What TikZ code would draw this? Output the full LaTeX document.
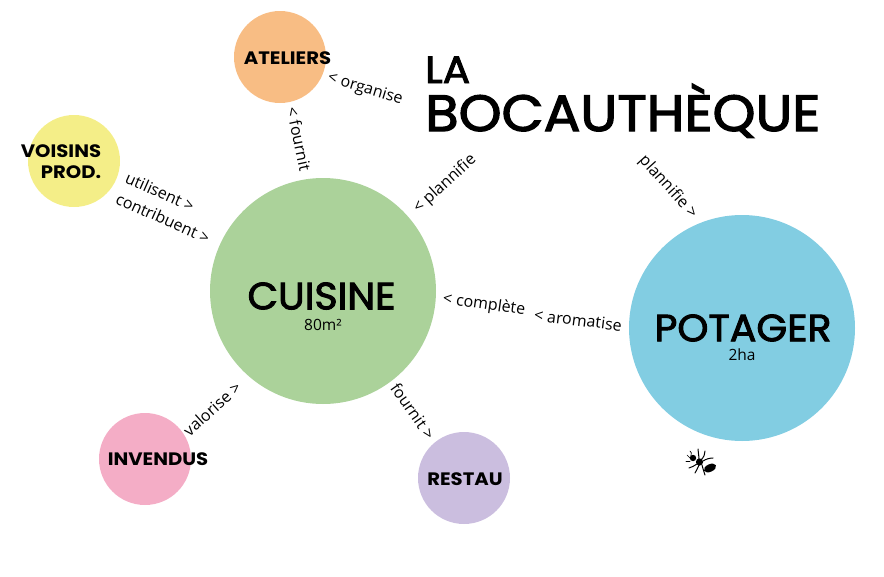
\documentclass[tikz,border=0pt]{standalone}
\usepackage{fontspec}
\setmainfont{Open Sans}
\newfontfamily\headfont[FakeBold=2.5,FakeStretch=1.04]{Poppins}
\newfontfamily\titlefont[FakeBold=2.5,FakeStretch=1.07]{Poppins}
\newfontfamily\tagfont[FakeStretch=1.09]{Poppins Bold}
\definecolor{cuisinec}{HTML}{ABD29A}
\definecolor{potagerc}{HTML}{82CDE2}
\definecolor{ateliersc}{HTML}{F8BD84}
\definecolor{voisinsc}{HTML}{F4EE88}
\definecolor{invendusc}{HTML}{F4ADC6}
\definecolor{restauc}{HTML}{CBBEDF}
\tikzset{
  bubble/.style={circle,draw=none,inner sep=0pt,outer sep=0pt},
  small/.style={bubble,minimum size=92pt},
  big/.style={bubble,minimum size=226pt},
  rel/.style={inner sep=0pt,font=\fontsize{16}{19}\selectfont},
  tag/.style={inner sep=0pt,font=\tagfont\fontsize{18}{21}\selectfont},
  head/.style={inner sep=0pt,font=\headfont\fontsize{38}{42}\selectfont},
  sub/.style={inner sep=0pt,font=\fontsize{15.5}{18}\selectfont},
  title/.style={inner sep=0pt,anchor=base west},
  antleg/.style={draw=black,line width=1pt,line cap=round}
}
\begin{document}
\begin{tikzpicture}[x=1pt,y=-1pt]
\useasboundingbox (0,0) rectangle (884,576);
\node[big,fill=cuisinec] (cuisine) at (323,291) {};
\node[big,fill=potagerc] (potager) at (742,328) {};
\node[small,fill=ateliersc] (ateliers) at (280,57) {};
\node[small,fill=voisinsc] (voisins) at (74,161) {};
\node[small,fill=invendusc] (invendus) at (145,459) {};
\node[small,fill=restauc] (restau) at (464,478) {};
\node[head] (tcuisine) at (321.5,296) {CUISINE};
\node[head] (tpotager) at (743,328) {POTAGER};
\node[sub] (scuisine) at (323,325) {80m²};
\node[sub] (spotager) at (742,355) {2ha};
\node[tag] (tateliers) at (287.5,58) {ATELIERS};
\node[tag] (tvoisins) at (61,151) {VOISINS};
\node[tag] (tprod) at (71,172) {PROD.};
\node[tag] (tinvendus) at (158,459) {INVENDUS};
\node[tag] (trestau) at (465,479) {RESTAU};
\node[title,font=\titlefont\fontsize{38}{40}\selectfont] (la) at (425,83) {LA};
\node[title,font=\titlefont\fontsize{51}{56}\selectfont] (boc) at (425,131) {BOCAUTHÈQUE};
\node[rel,rotate=-17] (r1) at (365,89) {< organise};
\node[rel,rotate=-78] (r2) at (299,139) {< fournit};
\node[rel,rotate=-24] (r3) at (160,192) {utilisent >};
\node[rel,rotate=-24] (r4) at (163,218) {contribuent >};
\node[rel,rotate=42] (r5) at (445,184) {< plannifie};
\node[rel,rotate=-48] (r6) at (668,187) {plannifie >};
\node[rel,rotate=-8] (r7) at (484,305) {< complète};
\node[rel,rotate=-7] (r8) at (578,320) {< aromatise};
\node[rel,rotate=42] (r9) at (212,409) {valorise >};
\node[rel,rotate=-55] (r10) at (413,411) {fournit >};
% ant
\fill (710,468) ellipse [x radius=6.5,y radius=3.8,rotate=25];
\fill (699.5,462) circle [radius=3.6];
\fill (693,458) circle [radius=3.2];
\draw[antleg] (699,460) .. controls (699,455) and (698,452) .. (698,449);
\draw[antleg] (701,460) .. controls (704,457) and (705,454) .. (705,451);
\draw[antleg] (703,461) .. controls (706,459) and (710,458) .. (713,458);
\draw[antleg] (697,464) .. controls (694,466) and (692,467) .. (689,468);
\draw[antleg] (699,465) .. controls (698,468) and (696,471) .. (695,473);
\draw[antleg] (702,465) .. controls (703,469) and (704,472) .. (705,475);
\draw[antleg,line width=.7pt] (691,456) .. controls (692,453) and (691,452) .. (690,451);
\draw[antleg,line width=.7pt] (690,458) .. controls (689,456) and (688,456) .. (687,455);
\draw[antleg,line width=.7pt] (690,461) -- (686,461);
\end{tikzpicture}
\end{document}
